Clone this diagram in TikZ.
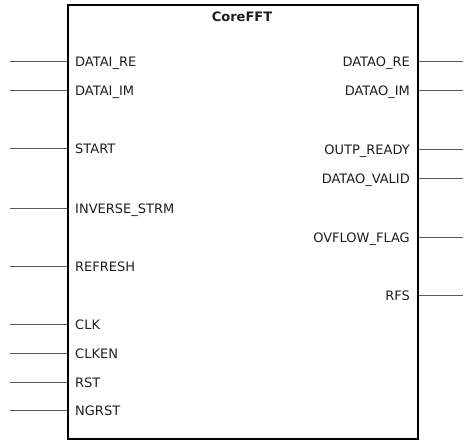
\documentclass[tikz,border=0pt]{standalone}
\usepackage{fontspec}
\setmainfont{DejaVu Sans}
\usetikzlibrary{positioning}
\definecolor{pingray}{RGB}{90,90,90}
\definecolor{txtgray}{RGB}{30,30,30}

\begin{document}
\begin{tikzpicture}[x=1pt, y=1pt,
    pinlabel/.style={font=\fontsize{13}{15}\selectfont, text=txtgray, inner sep=0pt},
    pinline/.style={draw=pingray, line width=1pt}]
    \useasboundingbox (0,0) rectangle (472,-440);
    % block outline
    \node[draw, line width=1.6pt, minimum width=350pt, minimum height=434pt,
      anchor=north west, inner sep=0pt] (fft) at (67,-4) {};
    \node[font=\fontsize{13}{15}\selectfont\bfseries, text=txtgray, anchor=base,
      inner sep=0pt] (title) at (242,-21) {CoreFFT};
    % inputs
    \foreach \lbl/\txt/\y in {dire/DATAI\_RE/61, diim/DATAI\_IM/90, start/START/148,
        invs/INVERSE\_STRM/208, refresh/REFRESH/266, clk/CLK/324,
        clken/CLKEN/353, rst/RST/382, ngrst/NGRST/410} {
      \node[pinlabel, anchor=base west] (\lbl) at (75,-\y-5) {\txt};
      \coordinate (\lbl-end) at (10,-\y);
      \draw[pinline] (\lbl-end) -- (fft.west |- \lbl-end);
    }
    % outputs
    \foreach \lbl/\txt/\y in {dore/DATAO\_RE/61, doim/DATAO\_IM/90,
        ready/OUTP\_READY/149, valid/DATAO\_VALID/178,
        ovfl/OVFLOW\_FLAG/237, rfs/RFS/295} {
      \node[pinlabel, anchor=base east] (\lbl) at (410,-\y-5) {\txt};
      \coordinate (\lbl-end) at (463,-\y);
      \draw[pinline] (fft.east |- \lbl-end) -- (\lbl-end);
    }
\end{tikzpicture}
\end{document}
